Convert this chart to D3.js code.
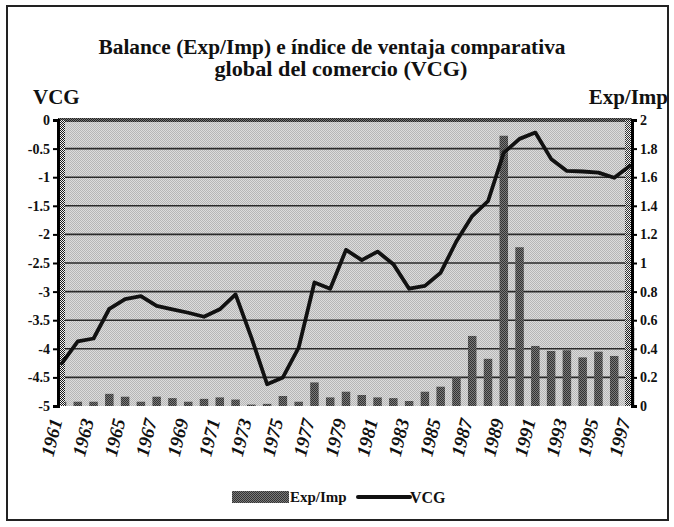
<!DOCTYPE html>
<html><head><meta charset="utf-8">
<script src="https://cdn.jsdelivr.net/npm/d3@7"></script>
<style>body{margin:0;background:#fff}svg{display:block}text{font-family:"Liberation Serif","Times New Roman",serif;font-weight:bold;fill:#111}</style>
</head><body><svg id="c" width="674" height="527"></svg>
<script>
const years = d3.range(1961, 1998);
const vcg = [-4.25,-3.87,-3.82,-3.30,-3.13,-3.08,-3.25,-3.31,-3.37,-3.44,-3.31,-3.05,-3.80,-4.62,-4.50,-3.98,-2.84,-2.95,-2.27,-2.45,-2.30,-2.52,-2.95,-2.90,-2.67,-2.12,-1.68,-1.42,-0.57,-0.33,-0.22,-0.68,-0.89,-0.90,-0.92,-1.01,-0.80];
const expImp = [0.03,0.03,0.03,0.085,0.065,0.03,0.065,0.055,0.03,0.05,0.06,0.045,0.01,0.015,0.07,0.03,0.165,0.06,0.10,0.077,0.06,0.055,0.035,0.10,0.135,0.20,0.49,0.33,1.89,1.11,0.42,0.385,0.39,0.34,0.38,0.35,0.555];
const leftTicks = [0,-0.5,-1,-1.5,-2,-2.5,-3,-3.5,-4,-4.5,-5];
const rightTicks = [0,0.2,0.4,0.6,0.8,1,1.2,1.4,1.6,1.8,2];
const xLabelYears = d3.range(1961, 1998, 2);
const titleLines = ["Balance (Exp/Imp) e índice de ventaja comparativa","global del comercio (VCG)"];

const svg = d3.select("#c");
const defs = svg.append("defs");
function pat(id, bg, fg){
  const p = defs.append("pattern").attr("id",id).attr("width",2).attr("height",2).attr("patternUnits","userSpaceOnUse");
  p.append("rect").attr("width",2).attr("height",2).attr("fill",bg);
  p.append("rect").attr("width",1).attr("height",1).attr("fill",fg);
  p.append("rect").attr("x",1).attr("y",1).attr("width",1).attr("height",1).attr("fill",fg);
}
pat("bgPat","#dcdcdc","#b6b6b6");
pat("barPat","#7a7a7a","#333");
pat("wallPat","#f4f4f4","#1a1a1a");
pat("topPat","#777","#222");

const L = 62, R = 630, T = 120, B = 406;
const x = d3.scalePoint().domain(years).range([L, R]);
const yL = d3.scaleLinear().domain([-5,0]).range([B,T]);
const yR = d3.scaleLinear().domain([0,2]).range([B,T]);

// frame
svg.append("rect").attr("x",7).attr("y",6).attr("width",661).attr("height",514).attr("fill","none").attr("stroke","#222").attr("stroke-width",2);

// title
svg.append("text").attr("x",332).attr("y",54).attr("text-anchor","middle").style("font-size","20px")
  .attr("textLength",467).attr("lengthAdjust","spacingAndGlyphs").text(titleLines[0]);
svg.append("text").attr("x",341).attr("y",76).attr("text-anchor","middle").style("font-size","20px")
  .attr("textLength",253).attr("lengthAdjust","spacingAndGlyphs").text(titleLines[1]);
svg.append("text").attr("x",33).attr("y",104).style("font-size","21px").text("VCG");
svg.append("text").attr("x",668).attr("y",104).attr("text-anchor","end").style("font-size","21px").text("Exp/Imp");

// plot background
svg.append("rect").attr("x",58).attr("y",T).attr("width",R+2-58).attr("height",B-T).attr("fill","url(#bgPat)");

// gridlines
svg.append("g").selectAll("line").data(leftTicks.slice(1,-1)).join("line")
  .attr("x1",58).attr("x2",R+2).attr("y1",d=>yL(d)).attr("y2",d=>yL(d))
  .attr("stroke","#2a2a2a").attr("stroke-width",1.6);
svg.append("rect").attr("x",58).attr("y",T-2).attr("width",R+2-58).attr("height",4).attr("fill","url(#topPat)");

// bars
const bw = 8.5;
svg.append("g").selectAll("rect").data(years).join("rect")
  .attr("x",(d)=>x(d)-bw/2).attr("width",bw)
  .attr("y",(d,i)=>yR(expImp[i])).attr("height",(d,i)=>yR(0)-yR(expImp[i]))
  .attr("fill","url(#barPat)");

// walls
svg.append("rect").attr("x",59).attr("y",T).attr("width",6).attr("height",B-T).attr("fill","url(#wallPat)");
svg.append("rect").attr("x",625).attr("y",T).attr("width",6).attr("height",B-T).attr("fill","url(#wallPat)").attr("opacity",0.85);

// line
svg.append("path").datum(years).attr("fill","none").attr("stroke","#111").attr("stroke-width",3.8)
  .attr("stroke-linejoin","round").attr("stroke-linecap","round")
  .attr("d", d3.line().x(d=>x(d)).y((d,i)=>yL(vcg[i])));

// left axis
const gl = svg.append("g").attr("transform","translate(58,0)").call(d3.axisLeft(yL).tickValues(leftTicks).tickSize(5).tickPadding(3).tickFormat(d=>d===0?"0":String(d)));
gl.select(".domain").attr("stroke","#000").attr("stroke-width",3);
gl.selectAll(".tick line").attr("stroke","#000").attr("stroke-width",2);
gl.selectAll(".tick text").style("font-size","14px").style("font-family","Liberation Serif").style("font-weight","bold").attr("fill","#111");

// right axis
const gr = svg.append("g").attr("transform","translate(632,0)").call(d3.axisRight(yR).tickValues(rightTicks).tickSize(5).tickPadding(3).tickFormat(d=>String(d)));
gr.select(".domain").attr("stroke","#000").attr("stroke-width",3);
gr.selectAll(".tick line").attr("stroke","#000").attr("stroke-width",2);
gr.selectAll(".tick text").style("font-size","14px").style("font-family","Liberation Serif").style("font-weight","bold").attr("fill","#111");

// x labels
svg.append("g").selectAll("text").data(xLabelYears).join("text")
  .attr("transform",d=>`translate(${x(d)-6},${419}) rotate(-76)`)
  .attr("text-anchor","end").attr("dy","0.35em")
  .style("font-size","19px").style("font-style","italic").text(d=>d);

// legend
svg.append("rect").attr("x",232).attr("y",491).attr("width",57).attr("height",12).attr("fill","url(#barPat)");
svg.append("text").attr("x",290).attr("y",502).style("font-size","15px").text("Exp/Imp");
svg.append("line").attr("x1",358).attr("x2",410).attr("y1",497).attr("y2",497).attr("stroke","#111").attr("stroke-width",4).attr("stroke-linecap","round");
svg.append("text").attr("x",410).attr("y",503).style("font-size","16px").text("VCG");
</script></body></html>
